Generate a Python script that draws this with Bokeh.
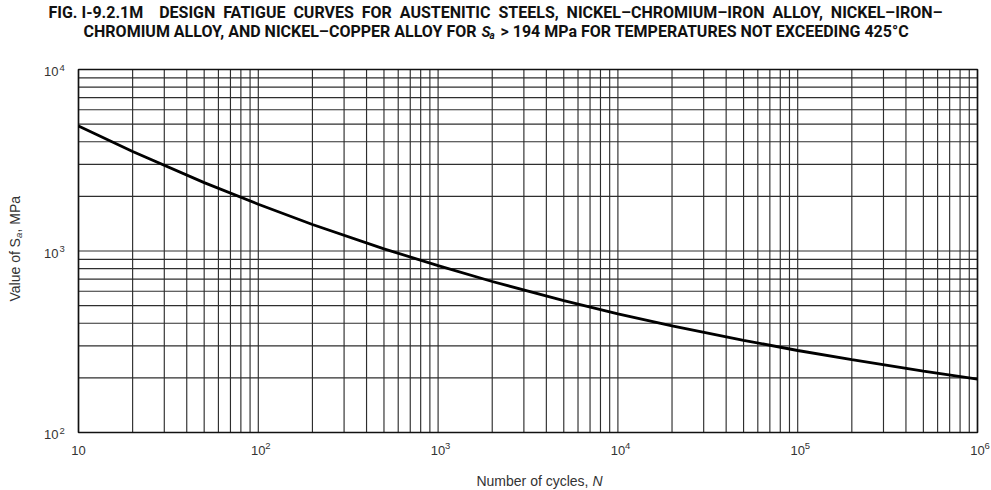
import math

from bokeh.embed import file_html
from bokeh.models import Label
from bokeh.plotting import figure
from bokeh.resources import INLINE

# Design fatigue curve: alternating stress amplitude S_a (MPa) vs. number of cycles N
cycles = [10, 20, 50, 100, 200, 500, 1e3, 2e3, 5e3, 1e4, 2e4, 5e4, 1e5, 2e5, 5e5, 1e6]
sa_mpa = [4880, 3530, 2380, 1810, 1400, 1028, 830, 679, 533, 451, 387, 322, 283, 252, 218, 197]

# Axis decades and the exponents written on them (10 itself has none)
x_decades = [10, 100, 1000, 10000, 100000, 1000000]
x_exponents = ["", "2", "3", "4", "5", "6"]
y_decades = [100, 1000, 10000]
y_exponents = ["2", "3", "4"]

# Log-paper grid: a line at every 1..9 multiple of each decade
x_grid = [k * d for d in x_decades[:-1] for k in range(1, 10)] + x_decades[-1:]
y_grid = [k * d for d in y_decades[:-1] for k in range(1, 10)] + y_decades[-1:]

W, H = 991, 490
# Plotting area on the canvas, in pixels from the top-left corner
PX_LEFT, PX_RIGHT, PX_TOP, PX_BOTTOM = 78, 977, 69, 432

# The frame fills the whole canvas; the ranges are widened so that the
# data window [10, 1e6] x [1e2, 1e4] lands on the plotting area above.
lx0, lx1 = math.log10(x_decades[0]), math.log10(x_decades[-1])
ly0, ly1 = math.log10(y_decades[0]), math.log10(y_decades[-1])
xpd = (PX_RIGHT - PX_LEFT) / (lx1 - lx0)
ypd = (PX_BOTTOM - PX_TOP) / (ly1 - ly0)
x_range = (10 ** (lx0 - PX_LEFT / xpd), 10 ** (lx1 + (W - PX_RIGHT) / xpd))
y_range = (10 ** (ly0 - (H - PX_BOTTOM) / ypd), 10 ** (ly1 + PX_TOP / ypd))

p = figure(
    width=W, height=H, title=None,
    x_axis_type="log", y_axis_type="log",
    x_axis_location=None, y_axis_location=None,
    x_range=x_range, y_range=y_range,
    output_backend="svg", toolbar_location=None, min_border=0,
)
p.background_fill_color = "white"
p.border_fill_color = "white"
p.outline_line_color = None
p.grid.visible = False

lo_x, hi_x = x_decades[0], x_decades[-1]
lo_y, hi_y = y_decades[0], y_decades[-1]

# Grid lines
p.segment(x0=x_grid, x1=x_grid, y0=[lo_y] * len(x_grid), y1=[hi_y] * len(x_grid),
          line_color="#2e2e2e", line_width=1.15)
p.segment(x0=[lo_x] * len(y_grid), x1=[hi_x] * len(y_grid), y0=y_grid, y1=y_grid,
          line_color="#2e2e2e", line_width=1.15)

# Frame around the plotting area
p.quad(left=[lo_x], right=[hi_x], bottom=[lo_y], top=[hi_y],
       fill_color=None, line_color="#111111", line_width=1.6)

# The fatigue curve
p.line(cycles, sa_mpa, line_color="black", line_width=2.8)

SANS = "Liberation Sans"
CAPTION = "Roboto"
INK = "#333333"


def add_text(px, py, text, size, align="left", style="normal", font=SANS,
             color=INK, angle=0.0):
    """Place a text at a canvas pixel position (measured from the top-left)."""
    p.add_layout(Label(
        x=px, y=H - py, x_units="screen", y_units="screen", text=text,
        text_font=font, text_font_size=size, text_font_style=style,
        text_align=align, text_baseline="middle", text_color=color, angle=angle,
    ))


# X decade labels: "10" centred on the grid line, exponent raised to its right
for dec, ex in zip(x_decades, x_exponents):
    p.add_layout(Label(x=dec, y=H - 450, x_units="data", y_units="screen", text="10",
                       text_font=SANS, text_font_size="13px", text_color=INK,
                       text_align="center", text_baseline="middle"))
    if ex:
        p.add_layout(Label(x=dec, y=H - 445, x_units="data", y_units="screen", text=ex,
                           x_offset=7, text_font=SANS, text_font_size="9.5px",
                           text_color=INK, text_align="left", text_baseline="middle"))

# Y decade labels, right-aligned left of the frame
for dec, ex in zip(y_decades, y_exponents):
    p.add_layout(Label(x=58, y=dec, x_units="screen", y_units="data", text="10",
                       y_offset=-2, text_font=SANS, text_font_size="13px", text_color=INK,
                       text_align="right", text_baseline="middle"))
    p.add_layout(Label(x=59, y=dec, x_units="screen", y_units="data", text=ex,
                       y_offset=2, text_font=SANS, text_font_size="9.5px", text_color=INK,
                       text_align="left", text_baseline="middle"))

# Two-line figure caption; the first line is set with slightly widened word gaps
TITLE_INK = "#111111"
caption_words = ["DESIGN", "FATIGUE", "CURVES", "FOR", "AUSTENITIC", "STEELS,",
                 "NICKEL\u2013CHROMIUM\u2013IRON", "ALLOY,", "NICKEL\u2013IRON\u2013"]
line_one = "FIG. I-9.2.1M" + "\u00a0" * 4 + "\u00a0 ".join(caption_words)
add_text(495, 12, line_one, "16px", align="center", style="bold",
         font=CAPTION, color=TITLE_INK)
add_text(476, 31, "CHROMIUM ALLOY, AND NICKEL\u2013COPPER ALLOY FOR",
         "16px", align="right", style="bold", font=CAPTION, color=TITLE_INK)
add_text(481, 31, "S", "15px", style="bold italic", font=CAPTION, color=TITLE_INK)
add_text(489, 35, "a", "10px", style="bold italic", font=CAPTION, color=TITLE_INK)
add_text(500, 31, "> 194 MPa FOR TEMPERATURES NOT EXCEEDING 425\u00b0C",
         "16px", style="bold", font=CAPTION, color=TITLE_INK)

# X axis title
add_text(588, 480, "Number of cycles,", "14px", align="right")
add_text(592, 480, "N", "14px", style="italic")

# Y axis title, reading upwards
up = math.pi / 2
add_text(14, 301, "Value of ", "14px", angle=up)
add_text(14, 247, "S", "14px", angle=up)
add_text(17.5, 237.5, "a", "9.5px", style="italic", angle=up)
add_text(14, 232, ", MPa", "14px", angle=up)

open("out.html", "w").write(file_html(p, INLINE))
